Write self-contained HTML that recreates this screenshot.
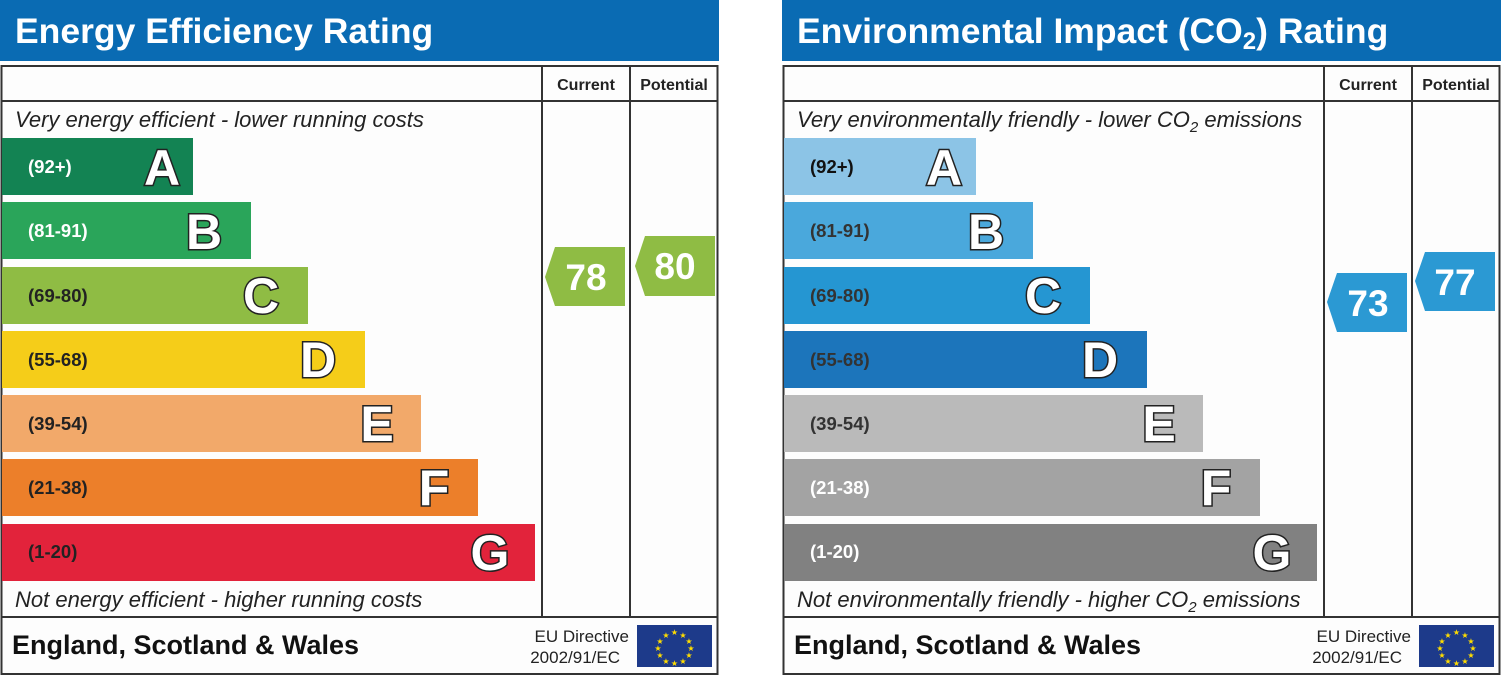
<!DOCTYPE html>
<html><head><meta charset="utf-8"><style>
html,body{margin:0;padding:0;background:#fff;}
svg{display:block;font-family:"Liberation Sans",Arial,sans-serif;}
.L{font-weight:bold;font-size:50px;fill:#fff;stroke:#222;stroke-width:3px;paint-order:stroke;text-anchor:middle;}
.r{font-weight:bold;font-size:18.5px;}
.it{font-style:italic;font-size:22px;fill:#222;}
.hd{font-weight:bold;font-size:16px;fill:#222;text-anchor:middle;}
.num{font-weight:bold;font-size:37px;fill:#fff;text-anchor:middle;}
</style></head><body>
<svg width="1501" height="675" viewBox="0 0 1501 675">
<defs>
<g id="frame">
<rect x="0" y="0" width="719" height="61" fill="#0a6bb3"/>
<rect x="1.5" y="66" width="716" height="608" fill="#fdfdfd" stroke="#333" stroke-width="2"/>
<line x1="542" y1="66" x2="542" y2="617" stroke="#333" stroke-width="2"/>
<line x1="630" y1="66" x2="630" y2="617" stroke="#333" stroke-width="2"/>
<line x1="1" y1="101" x2="718" y2="101" stroke="#333" stroke-width="2"/>
<line x1="1" y1="617" x2="718" y2="617" stroke="#333" stroke-width="2"/>
<text class="hd" x="586" y="90">Current</text>
<text class="hd" x="674" y="90">Potential</text>
<text x="12" y="654" font-weight="bold" font-size="27" fill="#111">England, Scotland &amp; Wales</text>
<text x="629" y="642" font-size="17" fill="#222" text-anchor="end">EU Directive</text>
<text x="620" y="663" font-size="17" fill="#222" text-anchor="end">2002/91/EC</text>
<rect x="637" y="625" width="75" height="42" fill="#1d3a8a"/>
<g fill="#ffdd00" font-size="8" text-anchor="middle">
<text x="674.5" y="635">★</text><text x="683" y="638">★</text><text x="689" y="644">★</text><text x="691" y="651">★</text><text x="689" y="658">★</text><text x="683" y="664">★</text><text x="674.5" y="666">★</text><text x="666" y="664">★</text><text x="660" y="658">★</text><text x="658" y="651">★</text><text x="660" y="644">★</text><text x="666" y="638">★</text>
</g>
</g>
</defs>

<!-- LEFT -->
<use href="#frame"/>
<text x="15" y="43" font-weight="bold" font-size="35.5" fill="#fff">Energy Efficiency Rating</text>
<text class="it" x="15" y="127">Very energy efficient - lower running costs</text>
<text class="it" x="15" y="607">Not energy efficient - higher running costs</text>
<rect x="2" y="138" width="191" height="57" fill="#138353"/>
<rect x="2" y="202" width="249" height="57" fill="#2aa55a"/>
<rect x="2" y="267" width="306" height="57" fill="#8fbc44"/>
<rect x="2" y="331" width="363" height="57" fill="#f5cd19"/>
<rect x="2" y="395" width="419" height="57" fill="#f2a96a"/>
<rect x="2" y="459" width="476" height="57" fill="#ec7f2a"/>
<rect x="2" y="524" width="533" height="57" fill="#e2233b"/>
<text class="r" x="28" y="173" fill="#fff">(92+)</text>
<text class="r" x="28" y="237" fill="#fff">(81-91)</text>
<text class="r" x="28" y="302" fill="#222">(69-80)</text>
<text class="r" x="28" y="366" fill="#222">(55-68)</text>
<text class="r" x="28" y="430" fill="#222">(39-54)</text>
<text class="r" x="28" y="494" fill="#222">(21-38)</text>
<text class="r" x="28" y="558" fill="#222">(1-20)</text>
<text class="L" x="162" y="185">A</text>
<text class="L" x="204" y="249">B</text>
<text class="L" x="261" y="313">C</text>
<text class="L" x="318" y="377">D</text>
<text class="L" x="377" y="441">E</text>
<text class="L" x="434" y="505">F</text>
<text class="L" x="490" y="570">G</text>
<polygon points="555,247 625,247 625,306 555,306 545,277" fill="#8fbc44"/>
<text class="num" x="586" y="290">78</text>
<polygon points="645,236 715,236 715,296 645,296 635,266" fill="#8fbc44"/>
<text class="num" x="675" y="279">80</text>

<!-- RIGHT -->
<g transform="translate(782,0)">
<use href="#frame"/>
<text x="15" y="43" font-weight="bold" font-size="35.5" fill="#fff">Environmental Impact (CO<tspan font-size="24" dy="6">2</tspan><tspan dy="-6">) Rating</tspan></text>
<text class="it" x="15" y="127">Very environmentally friendly - lower CO<tspan font-size="15" dy="5">2</tspan><tspan dy="-5"> emissions</tspan></text>
<text class="it" x="15" y="607">Not environmentally friendly - higher CO<tspan font-size="15" dy="5">2</tspan><tspan dy="-5"> emissions</tspan></text>
<rect x="2" y="138" width="192" height="57" fill="#8cc4e6"/>
<rect x="2" y="202" width="249" height="57" fill="#4aa8dc"/>
<rect x="2" y="267" width="306" height="57" fill="#2596d2"/>
<rect x="2" y="331" width="363" height="57" fill="#1c75bb"/>
<rect x="2" y="395" width="419" height="57" fill="#bababa"/>
<rect x="2" y="459" width="476" height="57" fill="#a3a3a3"/>
<rect x="2" y="524" width="533" height="57" fill="#818181"/>
<text class="r" x="28" y="173" fill="#111">(92+)</text>
<text class="r" x="28" y="237" fill="#333">(81-91)</text>
<text class="r" x="28" y="302" fill="#333">(69-80)</text>
<text class="r" x="28" y="366" fill="#333">(55-68)</text>
<text class="r" x="28" y="430" fill="#333">(39-54)</text>
<text class="r" x="28" y="494" fill="#fff">(21-38)</text>
<text class="r" x="28" y="558" fill="#fff">(1-20)</text>
<text class="L" x="162" y="185">A</text>
<text class="L" x="204" y="249">B</text>
<text class="L" x="261" y="313">C</text>
<text class="L" x="318" y="377">D</text>
<text class="L" x="377" y="441">E</text>
<text class="L" x="434" y="505">F</text>
<text class="L" x="490" y="570">G</text>
<polygon points="555,273 625,273 625,332 555,332 545,302" fill="#2b99d3"/>
<text class="num" x="586" y="316">73</text>
<polygon points="643,252 713,252 713,311 643,311 633,281" fill="#2b99d3"/>
<text class="num" x="673" y="295">77</text>
</g>
</svg>
</body></html>
